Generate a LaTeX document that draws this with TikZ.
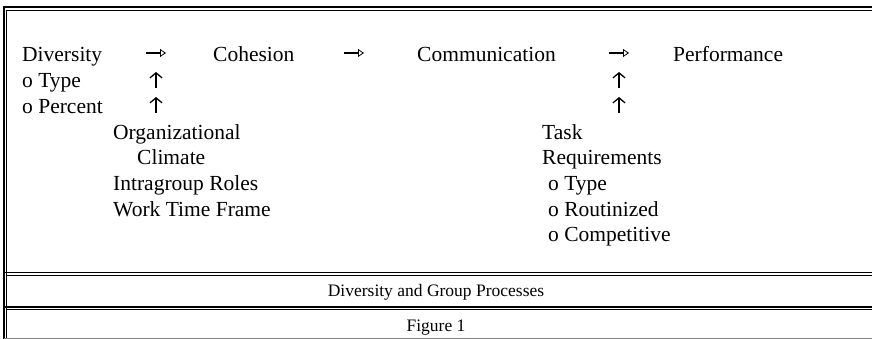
\documentclass[tikz,border=0pt]{standalone}
\usepackage{fontspec}
\setmainfont{Liberation Serif}
\usetikzlibrary{arrows.meta}
\tikzset{
  txt/.style={anchor=base west,inner sep=0pt,font=\fontsize{21.5}{25}\selectfont},
  captxt/.style={anchor=base,inner sep=0pt,font=\fontsize{17.5}{20}\selectfont},
  flow/.style={line width=2.6pt,-{Triangle[open,line width=0.8pt,length=6pt,width=8pt]}},
  rise/.style={line width=1.3pt,-{Straight Barb[length=5pt,width=12pt,line width=1.3pt]}}
}
\begin{document}
\begin{tikzpicture}[x=1pt,y=-1pt]
\useasboundingbox (0,0) rectangle (872,339);
% frame
\draw[line width=2pt] (3.7,339) -- (3.7,7) -- (872,7);
\draw[line width=0.9pt] (6.8,339) -- (6.8,10) -- (872,10);
\draw[line width=1.1pt] (3.7,272.7) -- (872,272.7);
\draw[line width=1.1pt] (6.8,275.5) -- (872,275.5);
\draw[line width=1.1pt] (3.7,307) -- (872,307);
\draw[line width=1.1pt] (6.8,309.8) -- (872,309.8);
\draw[line width=0.5pt,gray] (3.7,337.8) -- (872,337.8);
% top row
\node (div) at (22,62)[txt]{Diversity};
\node (coh) at (213,62)[txt]{Cohesion};
\node (com) at (417,62)[txt]{Communication};
\node (per) at (673,62)[txt]{Performance};
\node (typ) at (22,87.7)[txt]{o Type};
\node (pct) at (22,113.4)[txt]{o Percent};
% left block
\node (org) at (113,139.1)[txt]{Organizational};
\node (cli) at (137,164.8)[txt]{Climate};
\node (rol) at (113,190.5)[txt]{Intragroup Roles};
\node (wtf) at (113,216.2)[txt]{Work Time Frame};
% right block
\node (tsk) at (542,139.1)[txt]{Task};
\node (req) at (542,164.8)[txt]{Requirements};
\node (rtyp) at (548,190.5)[txt]{o Type};
\node (rout) at (548,216.2)[txt]{o Routinized};
\node (rcmp) at (548,241.9)[txt]{o Competitive};
% arrows
\coordinate (f1a) at (146,53); \coordinate (f1b) at (166,53);
\coordinate (f2a) at (344,53); \coordinate (f2b) at (364,53);
\coordinate (f3a) at (609,53); \coordinate (f3b) at (629,53);
\draw[flow] (f1a) -- (f1b);
\draw[flow] (f2a) -- (f2b);
\draw[flow] (f3a) -- (f3b);
\coordinate (u1a) at (156,88); \coordinate (u1b) at (156,72);
\coordinate (u2a) at (156,113); \coordinate (u2b) at (156,97);
\coordinate (u3a) at (619,88); \coordinate (u3b) at (619,72);
\coordinate (u4a) at (619,113); \coordinate (u4b) at (619,97);
\draw[rise] (u1a) -- (u1b);
\draw[rise] (u2a) -- (u2b);
\draw[rise] (u3a) -- (u3b);
\draw[rise] (u4a) -- (u4b);
% caption rows
\node (ttl) at (436,296.7)[captxt]{Diversity and Group Processes};
\node (fig) at (436,331.7)[captxt]{Figure 1};
\end{tikzpicture}
\end{document}
